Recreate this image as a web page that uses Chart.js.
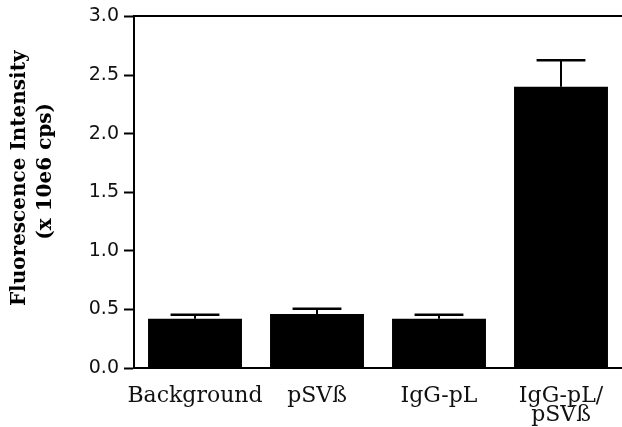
<!DOCTYPE html>
<html>
<head>
<meta charset="utf-8">
<script src="https://cdn.jsdelivr.net/npm/chart.js"></script>
<style>
  html, body { margin: 0; padding: 0; background: #fff; }
  #wrap { width: 622px; height: 427px; position: relative; }
</style>
</head>
<body>
<div id="wrap"><canvas id="chart"></canvas></div>
<script>
// data
const categories = ['Background', 'pSVß', 'IgG-pL', ['IgG-pL/', 'pSVß']];
const intensity = [0.42, 0.46, 0.42, 2.40];
const errorUp = [0.035, 0.045, 0.035, 0.225];
const yTicks = [0, 0.5, 1.0, 1.5, 2.0, 2.5, 3.0];

// upward-only error bars, placed through the chart's own scales
const errorBarPlugin = {
  id: 'errorBars',
  afterDatasetsDraw(chart) {
    const ctx = chart.ctx;
    const yScale = chart.scales.y;
    const meta = chart.getDatasetMeta(0);
    ctx.save();
    ctx.strokeStyle = '#000';
    meta.data.forEach((bar, i) => {
      const top = yScale.getPixelForValue(intensity[i] + errorUp[i]);
      const capHalf = bar.width * 0.26;
      ctx.lineWidth = 2;
      ctx.beginPath();
      ctx.moveTo(bar.x, bar.y);
      ctx.lineTo(bar.x, top);
      ctx.stroke();
      ctx.lineWidth = 2.5;
      ctx.beginPath();
      ctx.moveTo(bar.x - capHalf, top);
      ctx.lineTo(bar.x + capHalf, top);
      ctx.stroke();
    });
    ctx.restore();
  }
};

const ctx = document.getElementById('chart').getContext('2d');
new Chart(ctx, {
  type: 'bar',
  data: {
    labels: categories,
    datasets: [{
      data: intensity,
      backgroundColor: '#000',
      borderWidth: 0,
      barPercentage: 0.77,
      categoryPercentage: 1.0
    }]
  },
  options: {
    responsive: true,
    maintainAspectRatio: false,
    animation: false,
    layout: { padding: { top: 16, right: 0, left: 0, bottom: 0 } },
    plugins: { legend: { display: false }, tooltip: { enabled: false } },
    scales: {
      x: {
        grid: { display: false, drawTicks: false },
        border: { display: true, color: '#000', width: 2 },
        ticks: {
          color: '#111',
          padding: 18,
          autoSkip: false,
          maxRotation: 0,
          font: { family: 'DejaVu Serif', size: 22, lineHeight: 0.9 }
        },
        afterFit(scale) { scale.height = 59; }
      },
      x2: {
        position: 'top',
        grid: { display: false, drawTicks: false },
        border: { display: true, color: '#000', width: 2 },
        ticks: { display: false }
      },
      y: {
        min: 0,
        max: 3,
        afterBuildTicks(scale) { scale.ticks = yTicks.map(v => ({ value: v })); },
        grid: { drawOnChartArea: false, drawTicks: true, tickLength: 10, tickColor: '#000', tickWidth: 2 },
        border: { display: true, color: '#000', width: 2 },
        ticks: {
          color: '#111',
          padding: 5,
          font: { family: 'DejaVu Sans', size: 19 },
          callback: v => Number(v).toFixed(1)
        },
        title: {
          display: true,
          text: ['    Fluorescence Intensity', '      (x 10e6 cps)'],
          color: '#000',
          padding: { top: 7, bottom: 4 },
          font: { family: 'DejaVu Serif', size: 20, weight: 'bold', lineHeight: 1.3 }
        },
        afterFit(scale) { scale.width = 134; }
      }
    }
  },
  plugins: [errorBarPlugin]
});
</script>
</body>
</html>
